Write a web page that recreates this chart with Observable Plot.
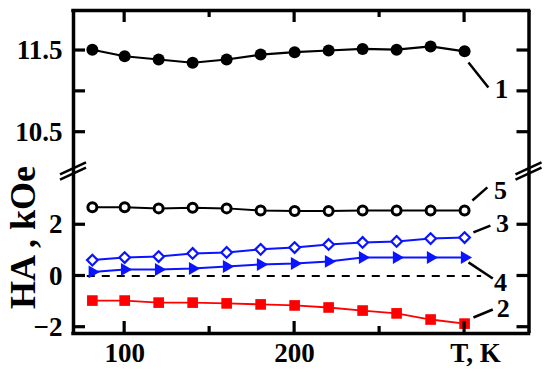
<!DOCTYPE html>
<html><head><meta charset="utf-8">
<script src="https://cdn.jsdelivr.net/npm/d3@7"></script>
<script src="https://cdn.jsdelivr.net/npm/@observablehq/plot@0.6"></script>
<style>
html,body{margin:0;padding:0;background:#fff;}
#chart{position:relative;width:550px;height:373px;overflow:hidden;background:#fff;}
#chart svg{position:absolute;left:0;}
</style></head><body><div id="chart"></div>
<script>
// Temperatures (K)
const temps = [81, 100, 120, 140, 160, 180, 200, 220, 240, 260, 280, 300];
// Series values (kOe)
const curve1 = [11.51, 11.43, 11.39, 11.35, 11.39, 11.45, 11.48, 11.50, 11.52, 11.51, 11.55, 11.49];
const curve5 = [2.68, 2.68, 2.64, 2.66, 2.64, 2.56, 2.54, 2.54, 2.56, 2.56, 2.56, 2.56];
const curve3 = [0.62, 0.72, 0.76, 0.88, 0.92, 1.04, 1.11, 1.23, 1.31, 1.35, 1.46, 1.50];
const curve4 = [0.16, 0.25, 0.25, 0.29, 0.37, 0.45, 0.49, 0.57, 0.72, 0.72, 0.72, 0.72];
const curve2 = [-0.96, -0.96, -1.04, -1.04, -1.07, -1.11, -1.15, -1.23, -1.35, -1.46, -1.70, -1.86];

// Axes
const xDomain = [69.9, 337.9];
const upperDomain = [10.019, 11.99];
const lowerDomain = [-2.246, 4.08];
const xMajor = [100, 200, 300];
const xMinor = [150, 250];
const xTickLabels = [100, 200];
const upperYTicks = [11.5, 11.0, 10.5];
const upperYLabels = [11.5, 10.5];
const lowerYTicks = [2, 0, -2];
const xTitle = "T, K";
const yTitle = "HA , kOe";

// Curve labels and leader lines
const upperLabels = [{x: 321.7, y: 11.023, t: "1"}];
const upperLeaders = [{x1: 302.3, y1: 11.353, x2: 314.0, y2: 11.047}];
const lowerLabels = [
  {x: 321.1, y: 3.34, t: "5"},
  {x: 322.3, y: 2.05, t: "3"},
  {x: 321.1, y: -0.25, t: "4"},
  {x: 322.8, y: -1.27, t: "2"}
];
const lowerLeaders = [
  {x1: 304.6, y1: 2.95, x2: 313.4, y2: 3.46},
  {x1: 305.2, y1: 1.70, x2: 315.2, y2: 1.97},
  {x1: 302.3, y1: 0.53, x2: 316.6, y2: -0.10},
  {x1: 305.2, y1: -1.62, x2: 316.6, y2: -1.31}
];
const zeroLine = [{x1: 78, x2: 310, y: 0}];

const rows = (vals) => temps.map((t, i) => ({t, v: vals[i]}));
const font = "'Liberation Serif', 'Times New Roman', serif";
const baseStyle = {fontFamily: font, fontWeight: "bold", fontSize: "27px", color: "black", background: "none", overflow: "visible"};

const upper = Plot.plot({
  width: 550, height: 171,
  marginLeft: 73, marginRight: 21.5, marginTop: 10, marginBottom: 0,
  x: {domain: xDomain, axis: null},
  y: {domain: upperDomain, axis: null},
  style: baseStyle,
  marks: [
    Plot.axisY(upperYLabels, {anchor: "left", tickSize: 0, tickPadding: 11, tickFormat: d => d.toFixed(1), label: null, fontSize: 27}),
    Plot.ruleX(xDomain, {strokeWidth: 3.5}),
    Plot.ruleY([upperDomain[1]], {strokeWidth: 3.5, strokeLinecap: "square"}),
    Plot.line(rows(curve1), {x: "t", y: "v", stroke: "black", strokeWidth: 2.2}),
    Plot.dot(rows(curve1), {x: "t", y: "v", r: 6, fill: "black", stroke: "none"}),
    Plot.link(upperLeaders, {x1: "x1", y1: "y1", x2: "x2", y2: "y2", stroke: "black", strokeWidth: 2.5}),
    Plot.text(upperLabels, {x: "x", y: "y", text: "t", fontSize: 27, fontWeight: "bold"})
  ]
});
upper.style.top = "0px";

const lower = Plot.plot({
  width: 550, height: 202,
  marginLeft: 73, marginRight: 21.5, marginTop: 0, marginBottom: 40,
  x: {domain: xDomain, axis: null},
  y: {domain: lowerDomain, axis: null},
  style: baseStyle,
  marks: [
    Plot.axisX(xTickLabels, {anchor: "bottom", tickSize: 0, tickPadding: 9, label: null, fontSize: 27}),
    Plot.axisY(lowerYTicks, {anchor: "left", tickSize: 0, tickPadding: 11, tickFormat: d => d < 0 ? "\u2212" + Math.abs(d) : String(d), label: null, fontSize: 27}),
    Plot.ruleX(xDomain, {strokeWidth: 3.5}),
    Plot.ruleY([lowerDomain[0]], {strokeWidth: 3.5, strokeLinecap: "square"}),
    Plot.ruleY(zeroLine, {x1: "x1", x2: "x2", y: "y", stroke: "black", strokeWidth: 2, strokeDasharray: "8,7"}),
    Plot.line(rows(curve5), {x: "t", y: "v", stroke: "black", strokeWidth: 2}),
    Plot.line(rows(curve3), {x: "t", y: "v", stroke: "#0a14ff", strokeWidth: 2}),
    Plot.line(rows(curve4), {x: "t", y: "v", stroke: "#0a14ff", strokeWidth: 2}),
    Plot.line(rows(curve2), {x: "t", y: "v", stroke: "#ff0000", strokeWidth: 1.8}),
    Plot.dot(rows(curve5), {x: "t", y: "v", r: 4.5, fill: "white", stroke: "black", strokeWidth: 3}),
    Plot.dot(rows(curve3), {x: "t", y: "v", symbol: "diamond2", r: 4.8, fill: "white", stroke: "#0a14ff", strokeWidth: 2.2}),
    Plot.dot(rows(curve4), {x: "t", y: "v", symbol: "triangle", rotate: 90, r: 4.8, fill: "#0a14ff", stroke: "none"}),
    Plot.dot(rows(curve2), {x: "t", y: "v", symbol: "square", r: 6, fill: "#ff0000", stroke: "none"}),
    Plot.link(lowerLeaders, {x1: "x1", y1: "y1", x2: "x2", y2: "y2", stroke: "black", strokeWidth: 2.5}),
    Plot.text(lowerLabels, {x: "x", y: "y", text: "t", fontSize: 26, fontWeight: "bold"}),
    Plot.text([xTitle], {text: d => d, frameAnchor: "bottom-right", textAnchor: "middle", lineAnchor: "middle", dx: -53.5, dy: 19.5, fontSize: 27, fontWeight: "bold"}),
    Plot.text([yTitle], {text: d => d, frameAnchor: "left", textAnchor: "middle", lineAnchor: "middle", dx: -50, dy: -15, rotate: -90, fontSize: 36, fontWeight: "bold"})
  ]
});
const lowerTop = 171;
lower.style.top = lowerTop + "px";

const chart = document.getElementById("chart");
chart.appendChild(upper);
chart.appendChild(lower);

// Inward ticks and axis-break marks, positioned with the plots' own scales
const sx = upper.scale("x");
const syU = upper.scale("y");
const syL = lower.scale("y");
const MAJ = 12, MIN = 7, TW = 3.2;
const xL = sx.apply(xDomain[0]), xR = sx.apply(xDomain[1]);
const yTop = syU.apply(upperDomain[1]);
const yBot = lowerTop + syL.apply(lowerDomain[0]);
const overlay = d3.create("svg").attr("width", 550).attr("height", 373).style("top", "0px").style("pointer-events", "none");
const seg = (x1, y1, x2, y2, w) => overlay.append("line")
  .attr("x1", x1).attr("y1", y1).attr("x2", x2).attr("y2", y2)
  .attr("stroke", "black").attr("stroke-width", w);
for (const t of xMajor) { const x = sx.apply(t); seg(x, yTop, x, yTop + MAJ, TW); seg(x, yBot, x, yBot - MAJ, TW); }
for (const t of xMinor) { const x = sx.apply(t); seg(x, yTop, x, yTop + MIN, TW); seg(x, yBot, x, yBot - MIN, TW); }
for (const v of upperYTicks) { const y = syU.apply(v); seg(xL, y, xL + MAJ, y, TW); seg(xR, y, xR - MAJ, y, TW); }
for (const v of lowerYTicks) { const y = lowerTop + syL.apply(v); seg(xL, y, xL + MAJ, y, TW); seg(xR, y, xR - MAJ, y, TW); }
const breakY = lowerTop;
for (const cx of [xL, xR]) {
  for (const off of [-2.6, 2.6]) seg(cx - 13, breakY + 6 + off, cx + 13, breakY - 6 + off, 2.6);
}
chart.appendChild(overlay.node());
</script></body></html>
